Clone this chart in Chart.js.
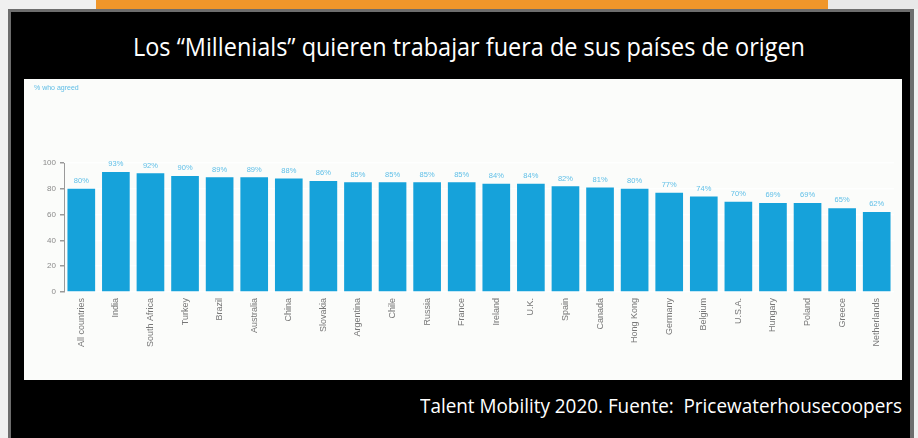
<!DOCTYPE html>
<html>
<head>
<meta charset="utf-8">
<script src="https://cdn.jsdelivr.net/npm/chart.js@4"></script>
<style>
  body { margin: 0; width: 918px; height: 438px; background: #f0f0f0; position: relative; overflow: hidden; font-family: "Open Sans", sans-serif; }
  #strip-orange { position: absolute; left: 96px; top: 0; width: 732px; height: 9px; background: #f0962a; }
  #strip-right { position: absolute; left: 828px; top: 0; width: 90px; height: 9px; background: #e8e8e8; }
  #frame { position: absolute; left: 8px; top: 9px; width: 906px; height: 429px; background: #6d6d6d; }
  #panel { position: absolute; left: 11px; top: 12px; width: 899px; height: 426px; background: #000; }
  .fit { position: absolute; color: #fff; white-space: nowrap; transform-origin: left top; }
  #title { left: 133px; top: 29px; font-size: 25px; }
  #footer { left: 420px; top: 392px; font-size: 20px; }
  #chart-box { position: absolute; left: 24px; top: 79px; width: 878px; height: 301px; background: #fbfcfa; }
  #unit { position: absolute; left: 10px; top: 5px; font-family: "Liberation Sans", sans-serif; font-size: 7px; color: #5fbde6; }
</style>
</head>
<body>
<div id="strip-orange"></div><div id="strip-right"></div>
<div id="frame"></div>
<div id="panel"></div>
<div id="title" class="fit" data-w="672">Los “Millenials” quieren trabajar fuera de sus países de origen</div>
<div id="chart-box">
  <div id="unit">% who agreed</div>
  <canvas id="chart" width="878" height="301"></canvas>
</div>
<div id="footer" class="fit" data-w="482">Talent Mobility 2020. Fuente:&nbsp; Pricewaterhousecoopers</div>
<script>
  const countries = ['All countries', 'India', 'South Africa', 'Turkey', 'Brazil', 'Australia', 'China', 'Slovakia',
    'Argentina', 'Chile', 'Russia', 'France', 'Ireland', 'U.K.', 'Spain', 'Canada', 'Hong Kong', 'Germany',
    'Belgium', 'U.S.A.', 'Hungary', 'Poland', 'Greece', 'Netherlands'];
  const agreed = [80, 93, 92, 90, 89, 89, 88, 86, 85, 85, 85, 85, 84, 84, 82, 81, 80, 77, 74, 70, 69, 69, 65, 62];
  const yTicks = [0, 20, 40, 60, 80, 100];

  // squeeze the condensed-looking texts to their width in the picture
  document.querySelectorAll('.fit').forEach(el => {
    const w = el.getBoundingClientRect().width;
    el.style.transform = `scaleX(${el.dataset.w / w})`;
  });

  // percentage labels above each bar
  const valueLabels = {
    id: 'valueLabels',
    afterDatasetsDraw(chart) {
      const ctx = chart.ctx;
      const meta = chart.getDatasetMeta(0);
      ctx.save();
      ctx.font = '7.5px "Liberation Sans", sans-serif';
      ctx.fillStyle = '#62c0e8';
      ctx.textAlign = 'center';
      ctx.textBaseline = 'bottom';
      meta.data.forEach((bar, i) => {
        ctx.fillText(agreed[i] + '%', bar.x, bar.y - 4);
      });
      ctx.restore();
    }
  };

  new Chart(document.getElementById('chart'), {
    type: 'bar',
    data: {
      labels: countries,
      datasets: [{
        data: agreed,
        backgroundColor: '#16a2da',
        barPercentage: 0.8,
        categoryPercentage: 1
      }]
    },
    options: {
      responsive: false,
      animation: false,
      layout: { padding: { top: 84, right: 8, left: 0, bottom: 0 } },
      plugins: { legend: { display: false }, tooltip: { enabled: false } },
      scales: {
        x: {
          afterFit(scale) { scale.height = 88; },
          grid: { display: false, drawTicks: false },
          border: { display: false },
          ticks: {
            autoSkip: false,
            minRotation: 90,
            maxRotation: 90,
            padding: 6,
            color: '#777',
            font: { family: 'Liberation Sans', size: 9 }
          }
        },
        y: {
          min: 0,
          max: 100,
          z: 1,
          afterFit(scale) { scale.width = 40; },
          afterBuildTicks(scale) { scale.ticks = yTicks.map(v => ({ value: v })); },
          border: { display: true, color: '#9a9a9a', width: 1 },
          grid: {
            color: 'rgba(255,255,255,0.8)',
            lineWidth: 1.5,
            tickColor: '#9a9a9a',
            tickLength: 4
          },
          ticks: {
            padding: 4,
            color: '#8a8a8a',
            font: { family: 'Liberation Sans', size: 8 }
          }
        }
      }
    },
    plugins: [valueLabels]
  });
</script>
</body>
</html>
